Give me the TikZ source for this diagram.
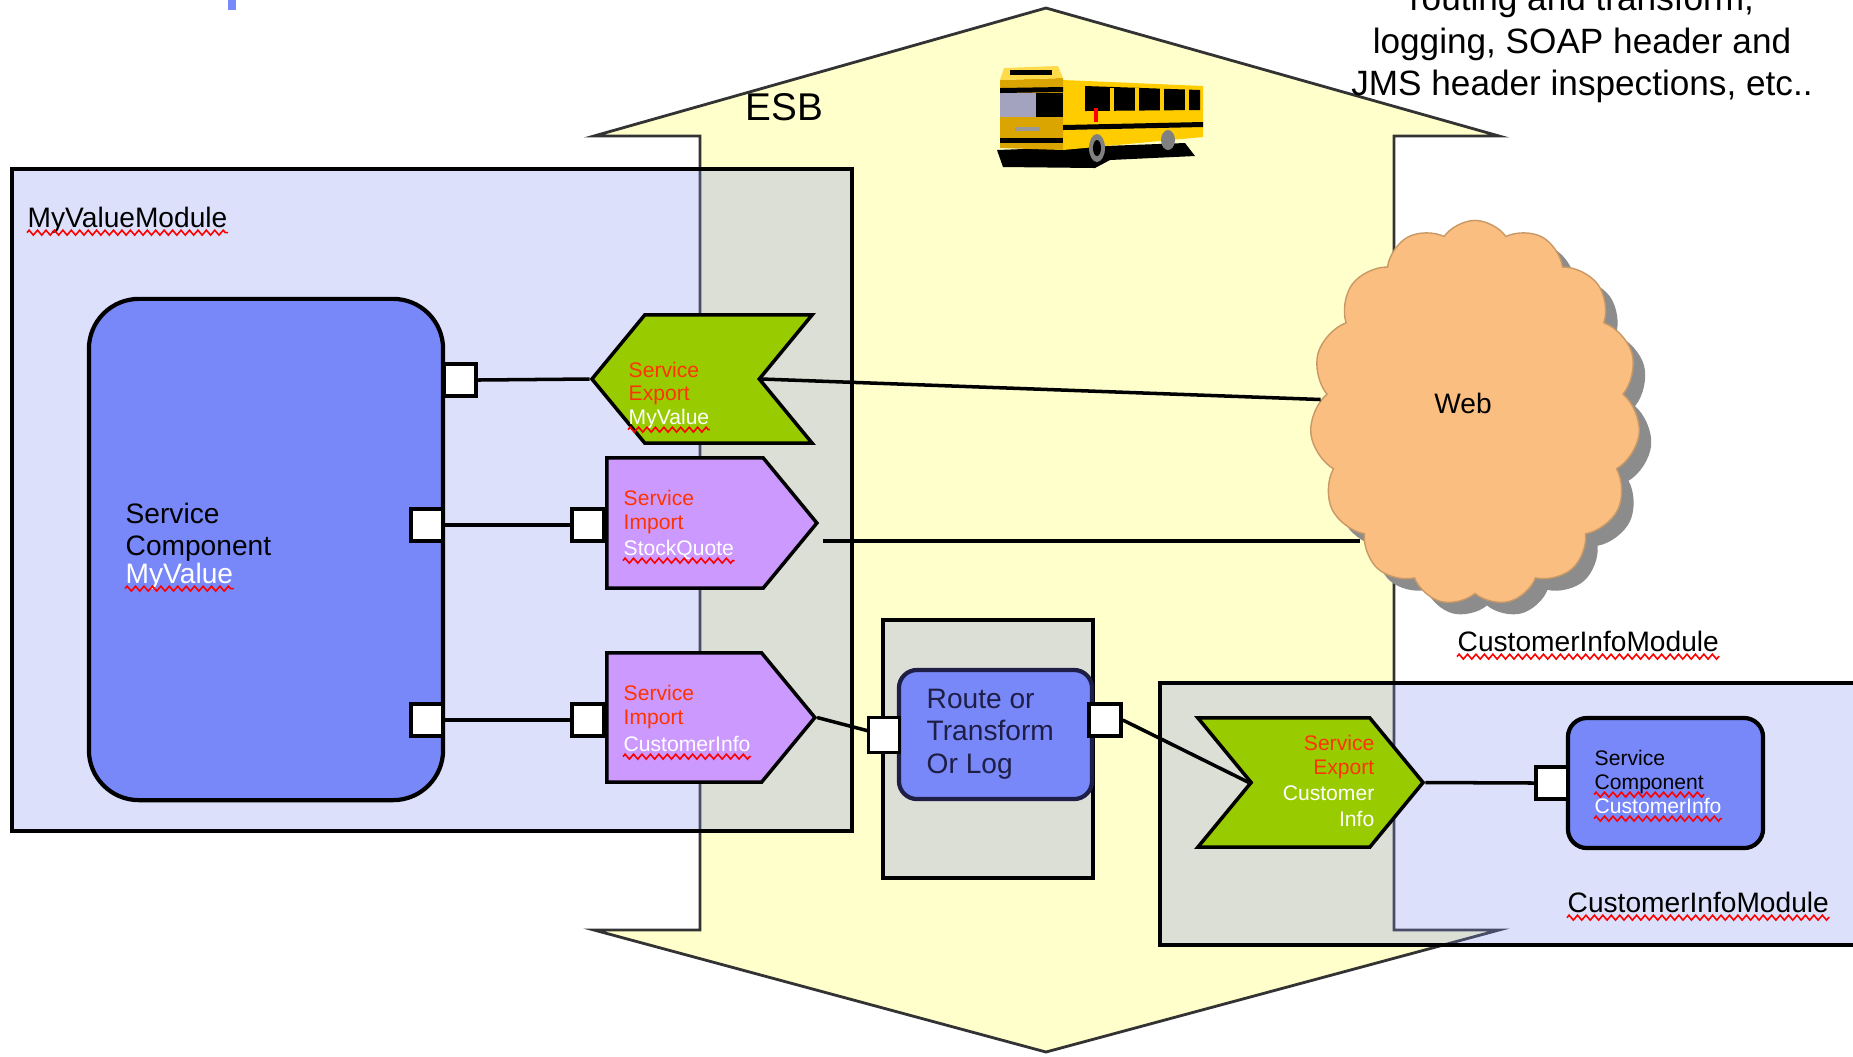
\documentclass[tikz,border=0pt]{standalone}
\usepackage{fontspec}
\setmainfont{Liberation Sans}
\usetikzlibrary{positioning,shapes.symbols,shadows,decorations.pathmorphing}

\definecolor{busfill}{RGB}{255,255,204}
\definecolor{modfill}{RGB}{131,142,237}
\definecolor{compblue}{RGB}{120,136,248}
\definecolor{expgreen}{RGB}{153,204,0}
\definecolor{imppurple}{RGB}{204,153,255}
\definecolor{webora}{RGB}{250,190,128}
\definecolor{svcred}{RGB}{255,51,0}
\definecolor{navy}{RGB}{30,30,70}
\definecolor{schoolbus}{RGB}{255,204,0}
\definecolor{busfront}{RGB}{218,165,0}

% red wavy spell-check line under a text node
\newcommand{\spellmark}[1]{\draw[spell] ([yshift=-1.6pt]#1.base west) -- ([yshift=-1.6pt]#1.base east);}

\begin{document}
\begin{tikzpicture}[x=0.01cm, y=-0.01cm,
  module/.style={draw, line width=1pt, fill=modfill, fill opacity=0.28, inner sep=0},
  component/.style={rectangle, draw, line width=1.2pt, fill=compblue, inner sep=0},
  port/.style={draw, fill=white, line width=1pt, minimum size=0.32cm, inner sep=0},
  sig/.style={signal, draw, line width=1pt, signal pointer angle=101, inner sep=0},
  export/.style={sig, fill=expgreen},
  import/.style={sig, fill=imppurple},
  txt/.style={inner sep=0, font=\fontsize{8}{9.5}\selectfont},
  lbltiny/.style={inner sep=0, font=\fontsize{6}{7}\selectfont},
  wire/.style={line width=1pt},
  spell/.style={draw=red, line width=0.45pt, decorate,
    decoration={zigzag, segment length=2.4pt, amplitude=0.7pt}},
]
  \useasboundingbox (0,0) rectangle (1853,1056);
  \fill[compblue] (228,0) rectangle (236,10);

  % the bus itself
  \draw[fill=busfill, line width=0.8pt, draw=black!80]
    (594,136) -- (1046,8) -- (1499,136) -- (1394,136) -- (1394,930)
    -- (1499,930) -- (1046,1052) -- (594,930) -- (700,930) -- (700,136) -- cycle;
  \node[inner sep=0, font=\fontsize{11}{13}\selectfont, anchor=base west] (esb) at (745,120) {ESB};
  \node[inner sep=0, font=\fontsize{10}{12}\selectfont, align=center] (note) at (1582,44)
    {routing and transform,\\logging, SOAP header and\\JMS header inspections, etc..};

  % school bus clip art
  \begin{scope}
    \fill[black] (997,150) -- (1185,143) -- (1195,156) -- (1110,160) -- (1095,168) -- (1003,167) -- cycle;
    \fill[schoolbus] (1063,80) -- (1203,86) -- (1203,137) -- (1063,150) -- cycle;
    \fill[busfront] (1000,80) -- (1063,78) -- (1063,150) -- (1000,148) -- cycle;
    \fill[schoolbus!70!white] (1004,68) -- (1058,66) -- (1063,78) -- (1000,80) -- cycle;
    \fill[black] (1010,70) rectangle (1052,75);
    \fill[black!10!blue!20!gray!60] (1000,93) rectangle (1036,117);
    \fill[black] (1036,93) rectangle (1063,117);
    \fill[black] (1000,88) -- (1063,87) -- (1063,92) -- (1000,93) -- cycle;
    \fill[black] (1085,86) -- (1200,90) -- (1200,110) -- (1085,111) -- cycle;
    \foreach \wx in {1110,1135,1160,1185}
      \fill[schoolbus] (\wx,88) rectangle (\wx+4,111);
    \fill[black] (1063,125) -- (1203,122) -- (1203,127) -- (1063,130) -- cycle;
    \fill[black] (1000,138) rectangle (1063,143);
    \fill[black!40!white] (1015,127) rectangle (1040,131);
    \fill[red] (1094,108) rectangle (1098,122);
    \fill[gray] (1097,148) ellipse [x radius=8, y radius=14];
    \fill[black] (1097,148) ellipse [x radius=4, y radius=8];
    \fill[gray] (1168,140) ellipse [x radius=7, y radius=10];
  \end{scope}

  % MyValue module
  \node[module, minimum width=8.4cm, minimum height=6.62cm] (mvbox) at (432,500) {};
  \node[txt, anchor=base west] (mvlbl) at (27,227) {MyValueModule};
  \spellmark{mvlbl}

  \node[component, rounded corners=0.5cm, minimum width=3.54cm, minimum height=5.01cm] (mvcomp) at (266,549.5) {};
  \node[txt, anchor=base west, align=left] (mvc1) at (125,523) {Service};
  \node[txt, anchor=base west] (mvc2) at (125,555) {Component};
  \node[txt, anchor=base west, text=white] (mvc3) at (125,583) {MyValue};
  \spellmark{mvc3}

  \node[port] (sq1) at (460,380) {};
  \node[port] (sq2) at (427,525) {};
  \node[port] (sq3) at (427,720) {};

  \node[export, signal to=west, signal from=east, minimum width=2.2cm, minimum height=1.28cm] (exp1) at (702,379) {};
  \node[import, signal to=east, anchor=west, minimum width=2.1cm, minimum height=1.3cm] (imp1) at (605,523) {};
  \node[import, signal to=east, anchor=west, minimum width=2.08cm, minimum height=1.29cm] (imp2) at (605,717.5) {};
  \node[port] (ip1) at (588,525) {};
  \node[port] (ip2) at (588,720) {};

  \node[lbltiny, anchor=base west, text=svcred] (e1a) at (628,377) {Service};
  \node[lbltiny, anchor=base west, text=svcred] (e1b) at (628,400) {Export};
  \node[lbltiny, anchor=base west, text=white] (e1c) at (628,424) {MyValue};
  \spellmark{e1c}
  \node[lbltiny, anchor=base west, text=svcred] (i1a) at (623,505) {Service};
  \node[lbltiny, anchor=base west, text=svcred] (i1b) at (623,529) {Import};
  \node[lbltiny, anchor=base west, text=white] (i1c) at (623,555) {StockQuote};
  \spellmark{i1c}
  \node[lbltiny, anchor=base west, text=svcred] (i2a) at (623,700) {Service};
  \node[lbltiny, anchor=base west, text=svcred] (i2b) at (623,724) {Import};
  \node[lbltiny, anchor=base west, text=white] (i2c) at (623,751) {CustomerInfo};
  \spellmark{i2c}

  % mediation in the middle of the bus
  \node[module, minimum width=2.1cm, minimum height=2.58cm] (medbox) at (988,749) {};
  \node[component, draw=navy, rounded corners=0.18cm, minimum width=1.93cm, minimum height=1.29cm] (route) at (995.5,734.5) {};
  \node[txt, anchor=base west, text=navy, align=left, font=\fontsize{8}{9.2}\selectfont] (routetxt) at (926,773)
    {Route or\\Transform\\Or Log};
  \node[port, minimum width=0.31cm, minimum height=0.35cm] (rl) at (884,735) {};
  \node[port] (rr) at (1105,720) {};

  % CustomerInfo module
  \node[module, minimum width=7.1cm, minimum height=2.62cm] (cibox) at (1515,814) {};
  \node[txt, anchor=base west] (cilbl1) at (1457,651) {CustomerInfoModule};
  \spellmark{cilbl1}
  \node[txt, anchor=base west] (cilbl2) at (1567,912) {CustomerInfoModule};
  \spellmark{cilbl2}

  \node[export, signal to=east, signal from=west, minimum width=2.25cm, minimum height=1.29cm] (exp2) at (1310.5,782.5) {};
  \node[lbltiny, anchor=base east, text=svcred] (e2a) at (1375,750) {Service};
  \node[lbltiny, anchor=base east, text=svcred] (e2b) at (1375,774) {Export};
  \node[lbltiny, anchor=base east, text=white] (e2c) at (1375,800) {Customer};
  \node[lbltiny, anchor=base east, text=white] (e2d) at (1375,826) {Info};

  \node[component, rounded corners=0.19cm, minimum width=1.95cm, minimum height=1.3cm] (cicomp) at (1665.5,783) {};
  \node[lbltiny, anchor=base west] (c2a) at (1594,765) {Service};
  \node[lbltiny, anchor=base west] (c2b) at (1594,789) {Component};
  \spellmark{c2b}
  \node[lbltiny, anchor=base west, text=white] (c2c) at (1594,813) {CustomerInfo};
  \spellmark{c2c}
  \node[port] (cport) at (1552,783) {};

  % web cloud
  \node[cloud, cloud puffs=15, cloud puff arc=110, cloud ignores aspect, fill=webora,
    draw=webora!80!black, minimum width=3.3cm, minimum height=3.85cm,
    drop shadow={shadow xshift=1.2mm, shadow yshift=-1.2mm, fill=black!45, opacity=1}] (web) at (1475,413) {};
  \node[txt] (webtxt) at (1463,403) {Web};

  % wiring
  \draw[wire] (sq1.east) -- (exp1.west);
  \draw[wire] (sq2.east) -- (ip1.west);
  \draw[wire] (sq3.east) -- (ip2.west);
  \draw[wire] (exp1.east) -- (web.175);
  \draw[wire] ([shift={(4,18)}]imp1.east) -- ([shift={(4,18)}]imp1.east -| web.225);
  \draw[wire] (imp2.east) -- (rl.center);
  \draw[wire] (rr.east) -- (exp2.west);
  \draw[wire] (exp2.east) -- (cport.west);
  \node[port, minimum width=0.31cm, minimum height=0.35cm] at (rl) {};
\end{tikzpicture}
\end{document}
